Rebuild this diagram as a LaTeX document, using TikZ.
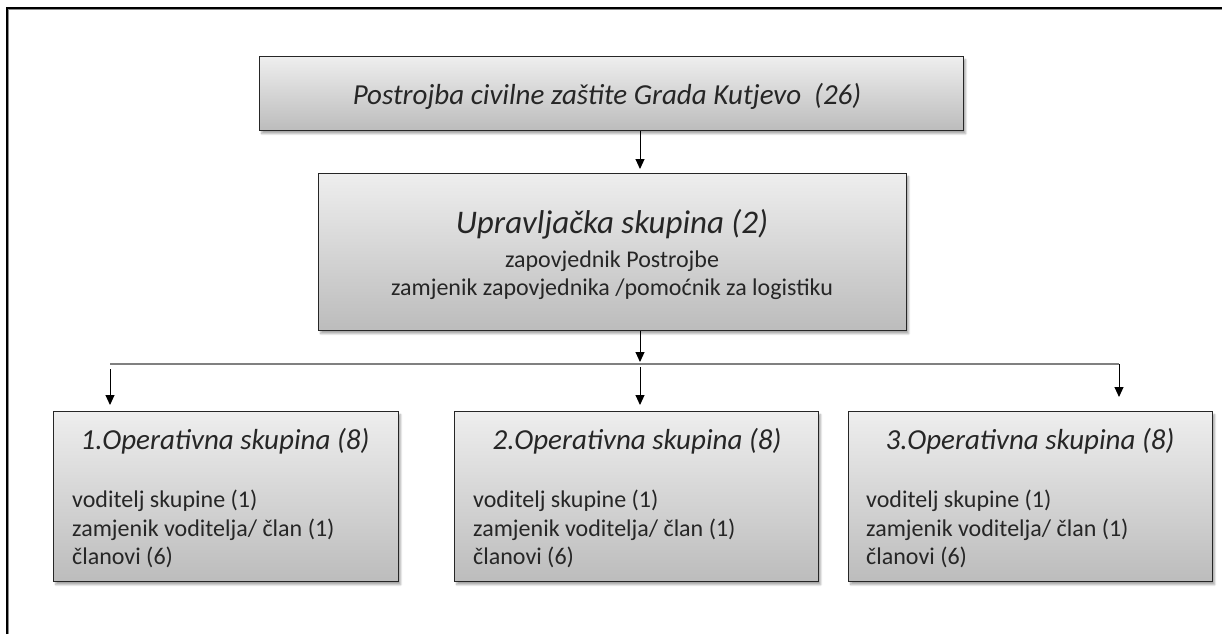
\documentclass[tikz,border=0pt]{standalone}
\usepackage{fontspec}
\setmainfont{Carlito}
\usetikzlibrary{arrows.meta,shadows.blur}
\definecolor{gtop}{RGB}{238,238,238}
\definecolor{gbot}{RGB}{188,188,188}
\definecolor{txt}{RGB}{38,38,38}
\definecolor{hline}{RGB}{128,128,128}
\tikzset{
  box/.style={draw=black!85,line width=1.3pt,top color=gtop,bottom color=gbot,
    inner sep=0pt,anchor=north west,
    blur shadow={shadow xshift=2pt,shadow yshift=-3pt,shadow blur steps=6,shadow opacity=35}},
  lbl/.style={text=txt,inner sep=0pt,anchor=base},
  lline/.style={text=txt,inner sep=0pt,anchor=base west,font=\fontsize{24}{28}\selectfont},
  arr/.style={-{Triangle[width=9pt,length=10pt]},line width=1pt,black}
}
\begin{document}
\begin{tikzpicture}[x=1pt,y=-1pt]
\useasboundingbox (0,0) rectangle (1222,634);
% frame
\draw[line width=2.6pt,black!45] (8,634) -- (8,9) -- (1222,9);
\draw[line width=1.6pt,black] (7,634) -- (7,8) -- (1222,8);
% boxes
\node[box,minimum width=704pt,minimum height=74pt] (top) at (259,56) {};
\node[box,minimum width=588pt,minimum height=157pt] (mid) at (318,173) {};
\node[box,minimum width=345pt,minimum height=170pt] (b1) at (53,411) {};
\node[box,minimum width=364pt,minimum height=170pt] (b2) at (454,411) {};
\node[box,minimum width=364pt,minimum height=170pt] (b3) at (848,411) {};
% texts
\node[lbl,font=\fontsize{29}{34}\itshape] (ttop) at (607,104) {Postrojba civilne zaštite Grada Kutjevo\ \ (26)};
\node[lbl,font=\fontsize{33}{38}\itshape] (tmid) at (612,233) {Upravljačka skupina (2)};
\node[lbl,font=\fontsize{24}{28}\selectfont] (tmid2) at (612,267) {zapovjednik Postrojbe};
\node[lbl,font=\fontsize{24}{28}\selectfont] (tmid3) at (612,295) {zamjenik zapovjednika /pomoćnik za logistiku};
\foreach \n/\x/\c in {1/72/225, 2/473/637, 3/866/1030}{
  \node[lbl,font=\fontsize{29}{34}\itshape] (h\n) at (\c,449) {\n.Operativna skupina (8)};
  \node[lline] (l\n a) at (\x,507) {voditelj skupine (1)};
  \node[lline] (l\n b) at (\x,536) {zamjenik voditelja/ član (1)};
  \node[lline] (l\n c) at (\x,564) {članovi (6)};
}
% connectors
\coordinate (jm) at (640,362);
\coordinate (j1) at (110,364);
\coordinate (j3) at (1119,364);
\coordinate (j2) at (640,367);
\coordinate (j1b) at (110,369);
\draw[line width=2pt,hline] (j1) -- (j3);
\draw[arr,shorten >=4pt] (top.south -| jm) -- (mid.north -| jm);
\draw[arr] (mid.south -| jm) -- (jm);
\draw[arr,shorten >=6pt] (j1b) -- (b1.north -| j1b);
\draw[arr,shorten >=6pt] (j2) -- (b2.north -| j2);
\draw[arr,shorten >=14pt] (j3) -- (b3.north -| j3);
\end{tikzpicture}
\end{document}
